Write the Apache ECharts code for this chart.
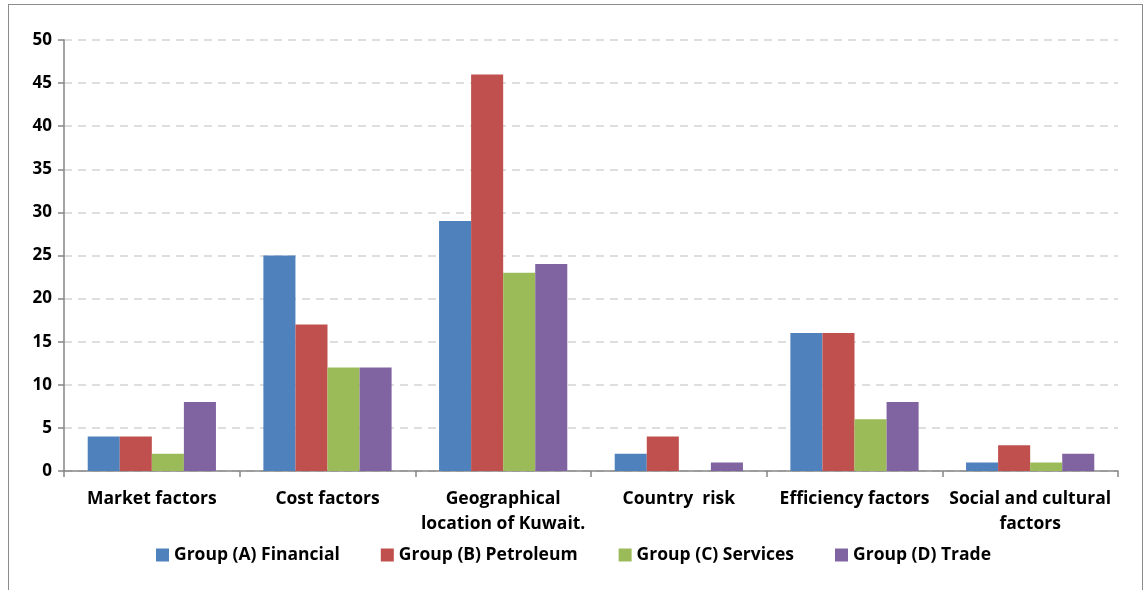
<!DOCTYPE html>
<html>
<head>
<meta charset="utf-8">
<script src="https://cdn.jsdelivr.net/npm/echarts@6/dist/echarts.min.js"></script>
<style>
  html, body { margin: 0; padding: 0; background: #fff; }
  #frame { position: absolute; left: 8px; top: 4px; width: 1135px; height: 600px; border: 1.5px solid #8c8c8c; box-sizing: border-box; }
  #chart { position: absolute; left: 0; top: 0; width: 1147px; height: 590px; }
</style>
</head>
<body>
<div id="frame"></div>
<div id="chart"></div>
<script>
// Factors influencing investment decisions, by investor group
const categories = [
  'Market factors',
  'Cost factors',
  'Geographical\nlocation of Kuwait.',
  'Country  risk',
  'Efficiency factors',
  'Social and cultural\nfactors'
];
const groupNames = [
  'Group (A) Financial',
  'Group (B) Petroleum',
  'Group (C) Services',
  'Group (D) Trade'
];
const groupA = [4, 25, 29, 2, 16, 1];
const groupB = [4, 17, 46, 4, 16, 3];
const groupC = [2, 12, 23, 0, 6, 1];
const groupD = [8, 12, 24, 1, 8, 2];
const colors = ['#4F81BD', '#C0504D', '#9BBB59', '#8064A2'];

const font = '"Open Sans", Lato, sans-serif';
const chart = echarts.init(document.getElementById('chart'));
const seriesData = [groupA, groupB, groupC, groupD];

chart.setOption({
  animation: false,
  color: colors,
  textStyle: { fontFamily: font },
  grid: { left: 64, right: 29, top: 40, bottom: 119, containLabel: false },
  legend: {
    bottom: 21,
    left: 'center',
    itemWidth: 13,
    itemHeight: 13,
    itemGap: 41,
    icon: 'rect',
    textStyle: { fontSize: 17.5, fontWeight: 'bold', color: '#000', fontFamily: font },
    data: groupNames
  },
  xAxis: {
    type: 'category',
    data: categories,
    axisLine: { lineStyle: { color: '#868686', width: 1.5 } },
    axisTick: { show: true, length: 6, alignWithLabel: false, lineStyle: { color: '#868686', width: 1.5 } },
    axisLabel: {
      interval: 0, margin: 16, fontSize: 17.5, fontWeight: 'bold', color: '#000',
      lineHeight: 25, fontFamily: font
    }
  },
  yAxis: {
    type: 'value',
    min: 0, max: 50, interval: 5,
    axisLine: { show: true, lineStyle: { color: '#868686', width: 1.5 } },
    axisTick: { show: true, length: 6, lineStyle: { color: '#868686', width: 1.5 } },
    axisLabel: { fontSize: 17, fontWeight: 'bold', color: '#000', margin: 12, fontFamily: font },
    splitLine: { lineStyle: { color: '#d4d4d4', type: [8, 6], width: 1.5 } }
  },
  series: groupNames.map((name, i) => ({
    name: name,
    type: 'bar',
    data: seriesData[i],
    barGap: '0%',
    barCategoryGap: '27%',
    itemStyle: { color: colors[i] }
  }))
});
</script>
</body>
</html>
